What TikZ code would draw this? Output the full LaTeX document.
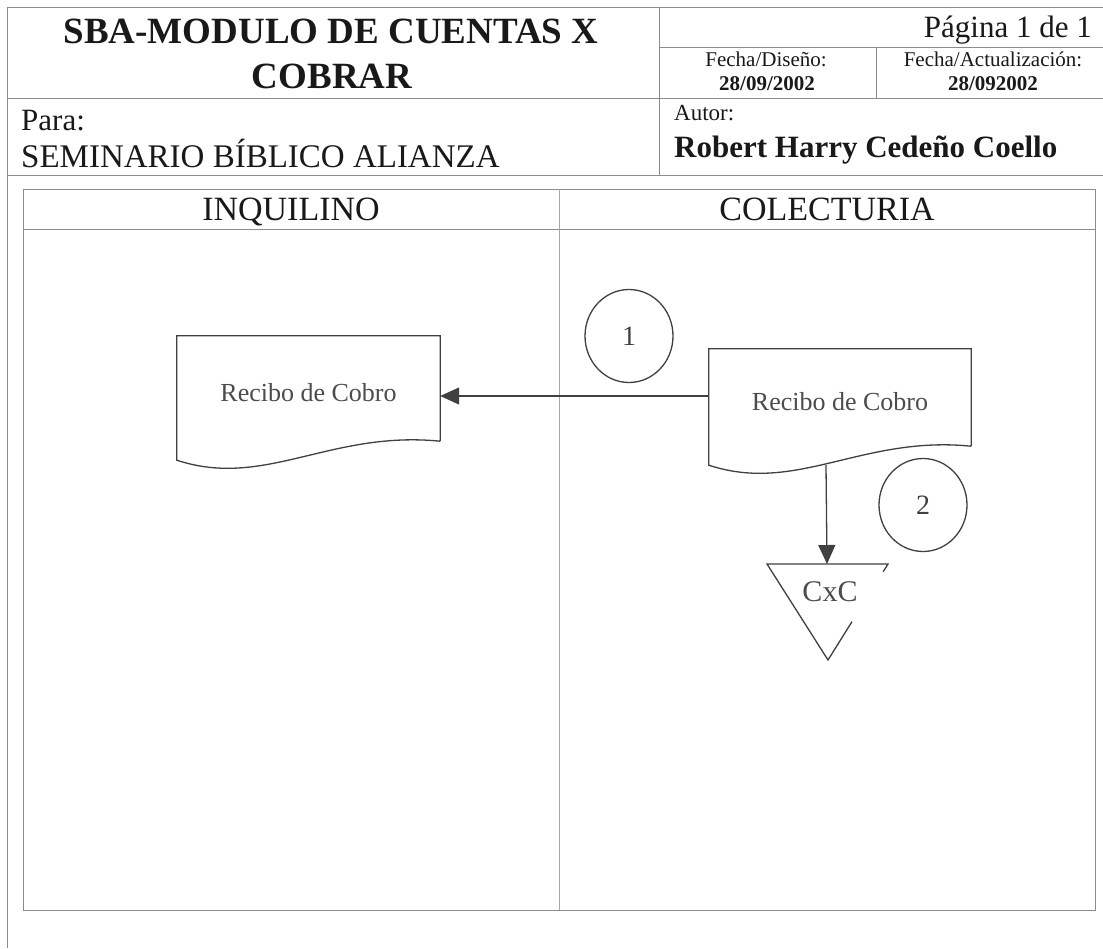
\documentclass[tikz,border=0pt]{standalone}
\usepackage{fontspec}
\setmainfont{Liberation Serif}
\usetikzlibrary{arrows.meta,calc,shapes.geometric}
\newcommand\fsz[1]{\fontsize{#1}{#1}\selectfont}
\newcommand\docline[1]{\draw[shp] (#1.south east) -- (#1.north east) -- (#1.north west) -- ($(#1.south west)+(0,19)$) .. controls ($(#1.south west)+(88,48)$) and ($(#1.south west)+(153,-11)$) .. (#1.south east);}
\begin{document}
\begin{tikzpicture}[x=1pt,y=-1pt,
  frame/.style={draw=black!45, line width=1pt},
  lane/.style={draw=black!35, line width=1pt},
  shp/.style={draw=black!75, line width=1.3pt},
  arr/.style={draw=black!75, line width=1.3pt, -{Triangle[length=19pt,width=17pt]}},
  lbl/.style={inner sep=0pt, text=black!90},
  soft/.style={inner sep=0pt, text=black!70},
  docbox/.style={draw=none, inner sep=0pt, text=black!70, font=\fsz{26}, text height=26pt, text depth=0pt},
  numcirc/.style={ellipse, draw=black!75, line width=1.3pt, minimum width=88pt, minimum height=93pt, inner sep=0pt, text=black!75, font=\fsz{28}}
]
\useasboundingbox (0,0) rectangle (1103,948);
\fill[white] (0,0) rectangle (1103,948);

% header frame
\draw[frame] (7,7) -- (1103,7);
\draw[frame] (7,7) -- (7,948);
\draw[frame] (659,7) -- (659,175);
\draw[frame] (659,47) -- (1103,47);
\draw[frame] (7,98) -- (1103,98);
\draw[frame] (876,47) -- (876,98);
\draw[frame] (7,175) -- (1103,175);

% header texts
\node[lbl, anchor=base, font=\fsz{37}\bfseries] (t1) at (331,43.5) {SBA-MODULO DE CUENTAS X};
\node[lbl, anchor=base, font=\fsz{37}\bfseries] (t2) at (332,88) {COBRAR};
\node[lbl, anchor=base east, font=\fsz{31}] (pg) at (1092,37.5) {Página 1 de 1};
\node[lbl, anchor=base, font=\fsz{21}] (fd) at (766,66.5) {Fecha/Diseño:};
\node[lbl, anchor=base, font=\fsz{21}\bfseries] (fdv) at (767,90.7) {28/09/2002};
\node[lbl, anchor=base, font=\fsz{21}] (fa) at (993,66.5) {Fecha/Actualización:};
\node[lbl, anchor=base, font=\fsz{21}\bfseries] (fav) at (993,90.7) {28/092002};
\node[lbl, anchor=base west, font=\fsz{31}] (para) at (21,130) {Para:};
\node[lbl, anchor=base west, font=\fsz{33}] (sem) at (21,167.5) {SEMINARIO BÍBLICO ALIANZA};
\node[lbl, anchor=base west, font=\fsz{23}] (autor) at (674,120) {Autor:};
\node[lbl, anchor=base west, font=\fsz{31}\bfseries] (rob) at (674,157) {Robert Harry Cedeño Coello};

% swimlanes
\draw[frame] (23,189) rectangle (1095,910);
\draw[frame] (23,229) -- (1095,229);
\draw[lane] (559,189) -- (559,910);
\node[lbl, anchor=base, font=\fsz{34}] (lane1) at (291,220.7) {INQUILINO};
\node[lbl, anchor=base, font=\fsz{34}] (lane2) at (827,220.7) {COLECTURIA};

% documents
\node[docbox, minimum width=263pt, minimum height=105pt] (d1) at (308.5,388.5) {Recibo de Cobro};
\docline{d1}
\node[docbox, minimum width=262pt, minimum height=97pt] (d2) at (840,397.5) {Recibo de Cobro};
\docline{d2}

% step circles
\node[numcirc] (c1) at (629,336) {1};
\node[numcirc] (c2) at (923,505) {2};

% CxC file triangle
\coordinate (tl) at (767,564);
\coordinate (tr) at (888,564);
\coordinate (ap) at (828,660);
\coordinate (cxctop) at (827,564);
\draw[shp] ($(tr)!0.08!(ap)$) -- (tr) -- (tl) -- (ap) -- ($(ap)!0.4!(tr)$);
\node[soft, font=\fsz{30}] (cxc) at (830,592) {CxC};

% connectors
\coordinate (d2bot) at (826,465);
\draw[arr] (d2.west |- 0,396) -- (d1.east |- 0,396);
\draw[arr] (d2bot) -- (cxctop);
\end{tikzpicture}
\end{document}
